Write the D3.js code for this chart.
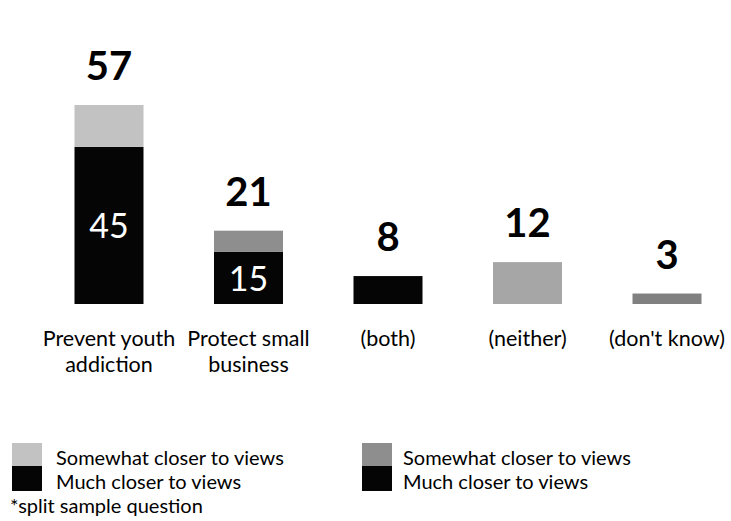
<!DOCTYPE html>
<html>
<head>
<meta charset="utf-8">
<script src="https://cdn.jsdelivr.net/npm/d3@7"></script>
<style>
  body { margin: 0; background: #fff; }
  text { font-family: Lato, "Open Sans", sans-serif; }
</style>
</head>
<body>
<script>
var width = 731;
var height = 521;

// data
var categories = [["Prevent youth", "addiction"], ["Protect small", "business"], ["(both)"], ["(neither)"], ["(don't know)"]];
var muchCloser = [45, 15, 8, 0, 0];
var somewhatCloser = [12, 6, 0, 12, 3];
var totals = [57, 21, 8, 12, 3];
var innerLabels = [45, 15, null, null, null];
var legendItems = ["Somewhat closer to views", "Much closer to views"];
var footnote = "*split sample question";

// fill for the upper (somewhat) part of each bar
var somewhatFill = ["#c2c2c2", "#8e8e8e", "#8e8e8e", "#a6a6a6", "#808080"];
var muchFill = "#050505";

var svg = d3.select("body").append("svg")
    .attr("width", width)
    .attr("height", height);

var x = d3.scalePoint()
    .domain(d3.range(categories.length))
    .range([39.25, 736.75])
    .padding(0.5);

var y = d3.scaleLinear()
    .domain([0, 57])
    .range([304, 105]);

var barW = 69;

var bars = svg.selectAll("g.bar")
    .data(categories)
  .enter().append("g")
    .attr("class", "bar")
    .attr("transform", function(d, i) { return "translate(" + x(i) + ",0)"; });

// much closer (bottom)
bars.append("rect")
    .attr("x", -barW / 2)
    .attr("width", barW)
    .attr("y", function(d, i) { return y(muchCloser[i]); })
    .attr("height", function(d, i) { return y(0) - y(muchCloser[i]); })
    .style("fill", muchFill);

// somewhat closer (top)
bars.append("rect")
    .attr("x", -barW / 2)
    .attr("width", barW)
    .attr("y", function(d, i) { return y(muchCloser[i] + somewhatCloser[i]); })
    .attr("height", function(d, i) { return y(muchCloser[i]) - y(muchCloser[i] + somewhatCloser[i]); })
    .style("fill", function(d, i) { return somewhatFill[i]; });

// totals above
bars.append("text")
    .attr("y", function(d, i) { return y(totals[i]) - 25; })
    .attr("text-anchor", "middle")
    .style("font-size", "40px")
    .style("font-weight", "bold")
    .style("fill", "#000")
    .text(function(d, i) { return totals[i]; });

// inner values
bars.filter(function(d, i) { return innerLabels[i] != null; })
  .append("text")
    .attr("y", function(d) { var i = categories.indexOf(d); return (y(0) + y(muchCloser[i])) / 2 + 13; })
    .attr("text-anchor", "middle")
    .style("font-size", "34px")
    .style("fill", "#fff")
    .text(function(d) { return innerLabels[categories.indexOf(d)]; });

// category labels
bars.append("text")
    .attr("text-anchor", "middle")
    .style("font-size", "21.5px")
    .style("fill", "#000")
  .selectAll("tspan")
    .data(function(d) { return d; })
  .enter().append("tspan")
    .attr("x", 0)
    .attr("y", function(d, j) { return 346 + j * 26; })
    .text(function(d) { return d; });

// legends
var legendPos = [{x: 12, fill: "#c2c2c2", tx: 56}, {x: 362, fill: "#8e8e8e", tx: 403}];
legendPos.forEach(function(p) {
  svg.append("rect").attr("x", p.x).attr("y", 443).attr("width", 30).attr("height", 23).style("fill", p.fill);
  svg.append("rect").attr("x", p.x).attr("y", 466).attr("width", 30).attr("height", 25).style("fill", muchFill);
  legendItems.forEach(function(t, k) {
    svg.append("text")
      .attr("x", p.tx)
      .attr("y", 465 + k * 24)
      .style("font-size", "20px")
      .text(t);
  });
});

svg.append("text")
    .attr("x", 10)
    .attr("y", 513)
    .style("font-size", "20px")
    .text(footnote);
</script>
</body>
</html>
